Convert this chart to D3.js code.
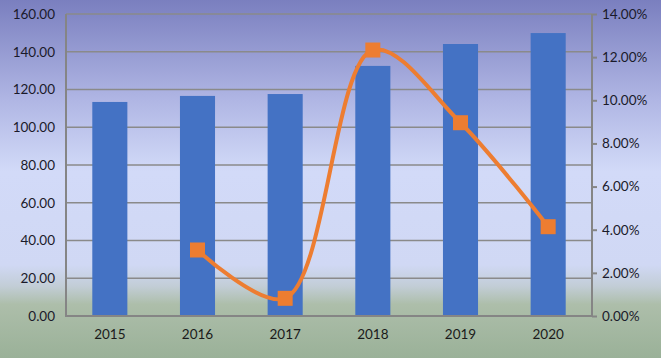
<!DOCTYPE html>
<html><head><meta charset="utf-8">
<script src="https://cdn.jsdelivr.net/npm/d3@7"></script>
<style>html,body{margin:0;padding:0;overflow:hidden}svg{display:block}</style>
</head><body>
<script>
const categories = ["2015","2016","2017","2018","2019","2020"];
const barValues = [113.4, 116.6, 117.6, 132.5, 144.1, 149.9];
const growthYears = ["2016","2017","2018","2019","2020"];
const growthValues = [3.06, 0.82, 12.33, 8.96, 4.14];
const leftTicks = [0,20,40,60,80,100,120,140,160];
const rightTicks = [0,2,4,6,8,10,12,14];

const W = 661, H = 358;
const m = {l:66, r:69, t:14, b:42};
const svg = d3.select("body").append("svg").attr("width",W).attr("height",H);
const defs = svg.append("defs");
const g = defs.append("linearGradient").attr("id","bg").attr("x1",0).attr("y1",0).attr("x2",0).attr("y2",1);
[[0,"#7a7fbf"],[0.28,"#b0b6e4"],[0.48,"#d2daf8"],[0.74,"#d0d8f4"],[0.8,"#c2cdd6"],[0.85,"#adbeaa"],[1,"#9ab198"]]
  .forEach(([o,c])=>g.append("stop").attr("offset",o).attr("stop-color",c));
svg.append("rect").attr("width",W).attr("height",H).attr("fill","url(#bg)");

const x0 = m.l, x1 = W - m.r, y0 = H - m.b, y1 = m.t;
const x = d3.scaleBand().domain(categories).range([x0,x1]).padding(0);
const y = d3.scaleLinear().domain([0,160]).range([y0,y1]);
const yR = d3.scaleLinear().domain([0,14]).range([y0,y1]);
const font = "Lato, 'Open Sans', sans-serif";

// gridlines
svg.append("g").selectAll("line").data(leftTicks.slice(1)).join("line")
  .attr("x1",x0).attr("x2",x1).attr("y1",d=>y(d)).attr("y2",d=>y(d))
  .attr("stroke","#8a8a8a").attr("stroke-width",1.5);

// bars
const bw = x.bandwidth()*0.4;
svg.append("g").selectAll("rect").data(barValues).join("rect")
  .attr("x",(d,i)=>x(categories[i])+x.bandwidth()/2-bw/2)
  .attr("width",bw).attr("y",d=>y(d)).attr("height",d=>y0-y(d))
  .attr("fill","#4472c4");

// axes lines
const axc = "#858585";
svg.append("line").attr("x1",x0).attr("x2",x0).attr("y1",y1).attr("y2",y0).attr("stroke",axc).attr("stroke-width",2);
svg.append("line").attr("x1",x1).attr("x2",x1).attr("y1",y1).attr("y2",y0).attr("stroke",axc).attr("stroke-width",2);
svg.append("line").attr("x1",x0-1).attr("x2",x1+1).attr("y1",y0).attr("y2",y0).attr("stroke",axc).attr("stroke-width",2);

// left axis labels
const ly = d3.axisLeft(y).tickValues(leftTicks).tickSize(0).tickPadding(11).tickFormat(d3.format(".2f"));
const gl = svg.append("g").attr("transform",`translate(${x0},0)`).call(ly);
gl.select(".domain").remove();
gl.selectAll("text").attr("font-family",font).attr("font-size",13.5).attr("fill","#1a1a2a");

// right axis
const ry = d3.axisRight(yR).tickValues(rightTicks).tickSize(5).tickPadding(5).tickFormat(d=>d3.format(".2f")(d)+"%");
const gr = svg.append("g").attr("transform",`translate(${x1},0)`).call(ry);
gr.select(".domain").remove();
gr.selectAll("line").attr("stroke",axc).attr("stroke-width",2);
gr.selectAll("text").attr("font-family",font).attr("font-size",13.5).attr("fill","#1a1a2a");

// bottom labels
const bx = d3.axisBottom(x).tickSize(0).tickPadding(13);
const gb = svg.append("g").attr("transform",`translate(0,${y0})`).call(bx);
gb.select(".domain").remove();
gb.selectAll("text").attr("font-family",font).attr("font-size",13.5).attr("fill","#1a1a1a");

// line
const pts = growthValues.map((v,i)=>[x(growthYears[i])+x.bandwidth()/2, yR(v)]);
svg.append("path").datum(pts)
  .attr("d",d3.line().curve(d3.curveCatmullRom.alpha(0.5)))
  .attr("fill","none").attr("stroke","#ed7d31").attr("stroke-width",4).attr("stroke-linejoin","round");
const ms = 15;
svg.append("g").selectAll("rect").data(pts).join("rect")
  .attr("x",d=>d[0]-ms/2).attr("y",d=>d[1]-ms/2).attr("width",ms).attr("height",ms)
  .attr("fill","#ed7d31");
</script>
</body></html>
